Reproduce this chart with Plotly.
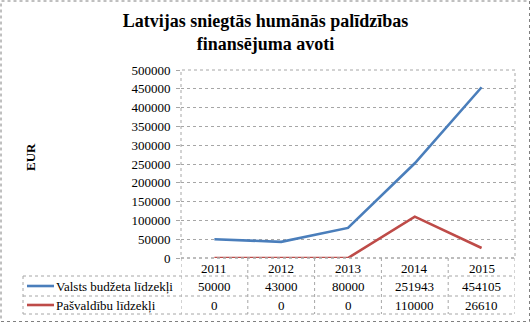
import plotly.graph_objects as go

years = ["2011", "2012", "2013", "2014", "2015"]
series_names = ["Valsts budžeta līdzekļi", "Pašvaldību līdzekļi"]
valsts = [50000, 43000, 80000, 251943, 454105]
pasvaldibu = [0, 0, 0, 110000, 26610]
colors = ["#4A7EBB", "#BE4B48"]
title_text = "Latvijas sniegtās humānās palīdzības<br>finansējuma avoti"
y_title = "EUR"

W, H = 531, 323
L, R, T, B = 181, 16, 70, 65
PW, PH = W - L - R, H - T - B

def px(xp):
    return (xp - L) / PW

def py(yp):
    return (H - B - yp) / PH

FONT = "Liberation Serif"
xs = list(range(len(years)))
fig = go.Figure()
for name, vals, c in zip(series_names, [valsts, pasvaldibu], colors):
    fig.add_trace(go.Scatter(x=xs, y=vals, mode="lines", name=name,
                             line=dict(color=c, width=2.6), showlegend=False))

shapes = []
ann = []
grey = "#A6A6A6"
shapes.append(dict(type="rect", xref="paper", yref="paper", x0=px(1), x1=px(W - 1.5),
                   y0=py(H - 1.5), y1=py(1), line=dict(color="#808080", width=1, dash="dot")))
shapes.append(dict(type="rect", xref="paper", yref="paper", x0=0, x1=1, y0=0, y1=1,
                   line=dict(color=grey, width=1, dash="dot")))
row_y = [258, 276, 296, 314]
n = len(years)
shapes.append(dict(type="line", xref="x", yref="paper", x0=-0.5, x1=n - 0.5,
                   y0=py(row_y[0]), y1=py(row_y[0]), line=dict(color=grey, width=1, dash="dot")))
for yy in row_y[1:]:
    shapes.append(dict(type="line", xref="paper", yref="paper", x0=px(23), x1=1,
                       y0=py(yy), y1=py(yy), line=dict(color=grey, width=1, dash="dot")))
for i in range(n + 1):
    shapes.append(dict(type="line", xref="x", yref="paper", x0=i - 0.5, x1=i - 0.5,
                       y0=py(row_y[0]), y1=py(row_y[-1]), line=dict(color=grey, width=1, dash="dot")))
shapes.append(dict(type="line", xref="paper", yref="paper", x0=px(23), x1=px(23),
                   y0=py(row_y[1]), y1=py(row_y[-1]), line=dict(color=grey, width=1, dash="dot")))

def txt(x, xref, y, text, xanchor="center", size=13, angle=0):
    return dict(x=x, xref=xref, y=y, yref="paper", text=text, showarrow=False,
                xanchor=xanchor, yanchor="middle", textangle=angle,
                font=dict(family=FONT, size=size, color="#000"))

for i, yr in enumerate(years):
    ann.append(txt(i, "x", py((row_y[0] + row_y[1]) / 2 + 1), yr))
for r, (name, vals, c) in enumerate(zip(series_names, [valsts, pasvaldibu], colors)):
    ymid = py((row_y[r + 1] + row_y[r + 2]) / 2)
    for i, v in enumerate(vals):
        ann.append(txt(i, "x", ymid, str(v)))
    shapes.append(dict(type="line", xref="paper", yref="paper", x0=px(27), x1=px(54),
                       y0=ymid, y1=ymid, line=dict(color=c, width=2.6)))
    ann.append(txt(px(54), "paper", ymid, name, xanchor="left"))

ann.append(txt(px(30), "paper", py(157), "<b>" + y_title + "</b>", angle=-90))

fig.update_layout(
    width=W, height=H, margin=dict(l=L, r=R, t=T, b=B, autoexpand=False),
    paper_bgcolor="white", plot_bgcolor="white",
    title=dict(text="<b>" + title_text + "</b>", x=0.5, xref="container", y=1 - 27 / H,
               yanchor="middle", font=dict(family=FONT, size=18, color="#000")),
    xaxis=dict(range=[-0.5, n - 0.5], showgrid=False, showticklabels=False, zeroline=False,
               showline=False, fixedrange=True, automargin=False),
    yaxis=dict(range=[0, 500000], dtick=50000, showgrid=True, gridcolor=grey, griddash="dot",
               gridwidth=1, zeroline=False, showline=False, ticks="outside", ticklen=4,
               tickcolor=grey, tickformat="d", automargin=False, ticklabelstandoff=3,
               tickfont=dict(family=FONT, size=13, color="#000")),
    shapes=shapes, annotations=ann, showlegend=False,
)
fig.write_html("out.html")
